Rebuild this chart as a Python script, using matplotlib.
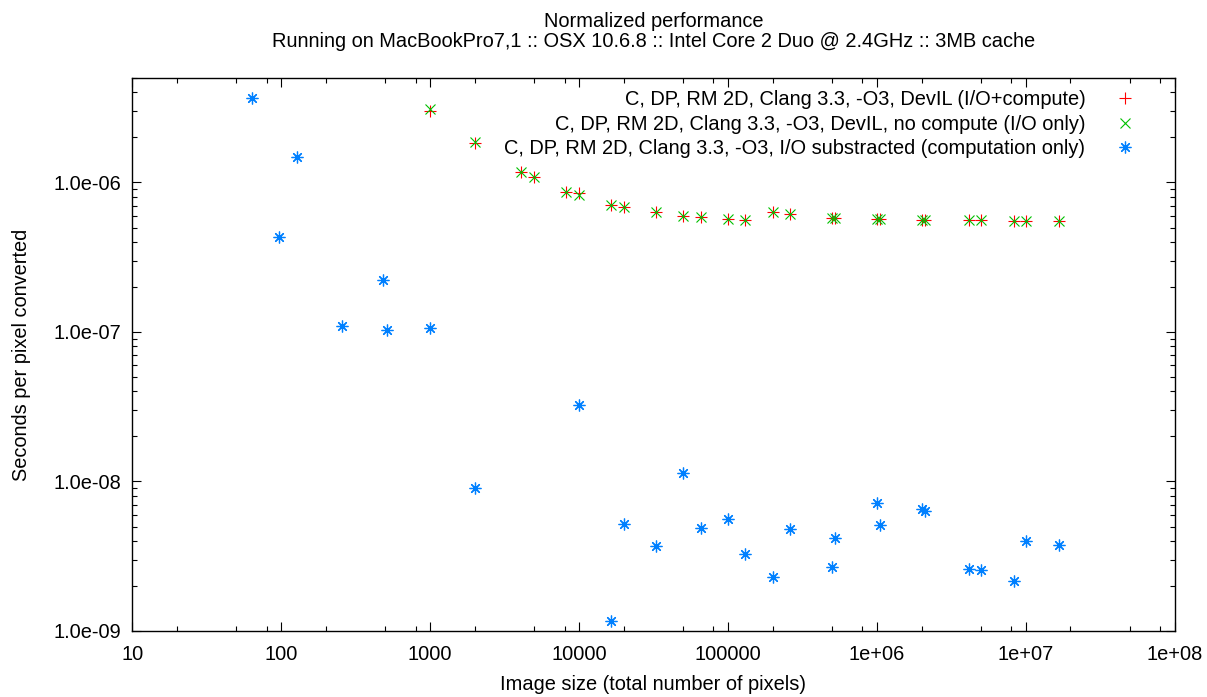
import numpy as np
import matplotlib
matplotlib.use('Agg')
import matplotlib.pyplot as plt
from matplotlib.ticker import LogLocator, FuncFormatter, NullFormatter

plt.rcParams['font.family'] = ['Liberation Sans', 'DejaVu Sans']
plt.rcParams['font.size'] = 14.4

# image sizes (pixels) for the I/O series
io_sizes = [1000, 2000, 4096, 5000, 8192, 10000, 16384, 20000, 32768, 50000,
            65536, 100000, 131072, 200000, 262144, 500000, 524288, 1000000,
            1048576, 2000000, 2097152, 4194304, 5000000, 8388608, 10000000,
            16777216]
# seconds per pixel, I/O + compute
io_compute = [3.0e-6, 1.83e-6, 1.18e-6, 1.09e-6, 8.7e-7, 8.5e-7, 7.1e-7, 6.9e-7,
              6.3e-7, 5.95e-7, 5.9e-7, 5.67e-7, 5.6e-7, 6.37e-7, 6.18e-7, 5.8e-7,
              5.8e-7, 5.66e-7, 5.66e-7, 5.6e-7, 5.58e-7, 5.58e-7, 5.58e-7,
              5.56e-7, 5.56e-7, 5.56e-7]
# seconds per pixel, I/O only
io_only = [3.1e-6, 1.87e-6, 1.18e-6, 1.09e-6, 8.7e-7, 8.2e-7, 7.1e-7, 6.9e-7,
           6.3e-7, 5.95e-7, 5.9e-7, 5.67e-7, 5.6e-7, 6.37e-7, 6.18e-7, 5.8e-7,
           5.8e-7, 5.66e-7, 5.66e-7, 5.6e-7, 5.58e-7, 5.58e-7, 5.58e-7,
           5.56e-7, 5.56e-7, 5.56e-7]

# computation only (I/O substracted)
comp_sizes = [64, 96, 128, 256, 480, 512, 1000, 2000, 10000, 16384, 20000,
              32768, 50000, 65536, 100000, 131072, 200000, 262144, 500000,
              524288, 1000000, 1048576, 2000000, 2097152, 4194304, 5000000,
              8388608, 10000000, 16777216]
comp_only = [3.67e-6, 4.31e-7, 1.49e-6, 1.10e-7, 2.23e-7, 1.035e-7, 1.07e-7,
             9.04e-9, 3.26e-8, 1.16e-9, 5.21e-9, 3.72e-9, 1.14e-8, 4.92e-9,
             5.65e-9, 3.27e-9, 2.29e-9, 4.8e-9, 2.69e-9, 4.2e-9, 7.21e-9,
             5.15e-9, 6.53e-9, 6.34e-9, 2.59e-9, 2.55e-9, 2.16e-9, 4.03e-9,
             3.76e-9]

labels = ["C, DP, RM 2D, Clang 3.3, -O3, DevIL (I/O+compute)",
          "C, DP, RM 2D, Clang 3.3, -O3, DevIL, no compute (I/O only)",
          "C, DP, RM 2D, Clang 3.3, -O3, I/O substracted (computation only)"]

W, H = 1207, 697
fig = plt.figure(figsize=(W / 100, H / 100), dpi=100)
ax = fig.add_axes([132.3 / W, 1 - 631 / H, (1174.5 - 132.3) / W, (631 - 78) / H])

ax.plot(io_sizes, io_compute, linestyle='none', marker='+', markersize=8.5,
        markeredgewidth=0.8, color='#ff0000', label=labels[0])
ax.plot(io_sizes, io_only, linestyle='none', marker='x', markersize=7.5,
        markeredgewidth=0.8, color='#00c000', label=labels[1])
ax.plot(comp_sizes, comp_only, linestyle='none', marker=(8, 2, 0), markersize=8.5,
        markeredgewidth=0.9, color='#0080ff', label=labels[2])

ax.set_xscale('log')
ax.set_yscale('log')
ax.set_xlim(10, 1e8)
ax.set_ylim(1e-9, 5e-6)

ax.xaxis.set_major_locator(LogLocator(base=10, numticks=20))
ax.xaxis.set_minor_locator(LogLocator(base=10, subs=[2, 5, 8], numticks=20))
ax.yaxis.set_major_locator(LogLocator(base=10, numticks=20))
ax.yaxis.set_minor_locator(LogLocator(base=10, subs=np.arange(2, 10), numticks=20))
ax.xaxis.set_major_formatter(FuncFormatter(lambda v, p: '%g' % v))
ax.yaxis.set_major_formatter(FuncFormatter(lambda v, p: '%.1e' % v))
ax.xaxis.set_minor_formatter(NullFormatter())
ax.yaxis.set_minor_formatter(NullFormatter())

ax.tick_params(which='both', direction='in', top=True, right=True, width=0.8)
ax.tick_params(which='major', length=6.8)
ax.tick_params(which='minor', length=3.4)
ax.tick_params(axis='x', which='major', pad=10.3, labelsize=14.4)
ax.tick_params(axis='y', which='major', pad=8.2, labelsize=14.4)
for s in ax.spines.values():
    s.set_linewidth(1.0)

leg = ax.legend(loc='upper right', bbox_to_anchor=(0.9758, 0.978), frameon=False,
                markerfirst=False, borderaxespad=0, borderpad=0, handlelength=2.4,
                handletextpad=0.8, labelspacing=0.27, fontsize=14.4)

fig.text(653.4 / W, 1 - 26.7 / H, "Normalized performance", ha='center', va='baseline')
fig.text(653.4 / W, 1 - 46.7 / H,
         "Running on MacBookPro7,1 :: OSX 10.6.8 :: Intel Core 2 Duo @ 2.4GHz :: 3MB cache",
         ha='center', va='baseline')
fig.text(653.4 / W, 1 - 690 / H, "Image size (total number of pixels)",
         ha='center', va='baseline')
fig.text(21.5 / W, 1 - 354.5 / H, "Seconds per pixel converted", rotation=90,
         ha='center', va='center')

fig.savefig('out.png', dpi=100)
